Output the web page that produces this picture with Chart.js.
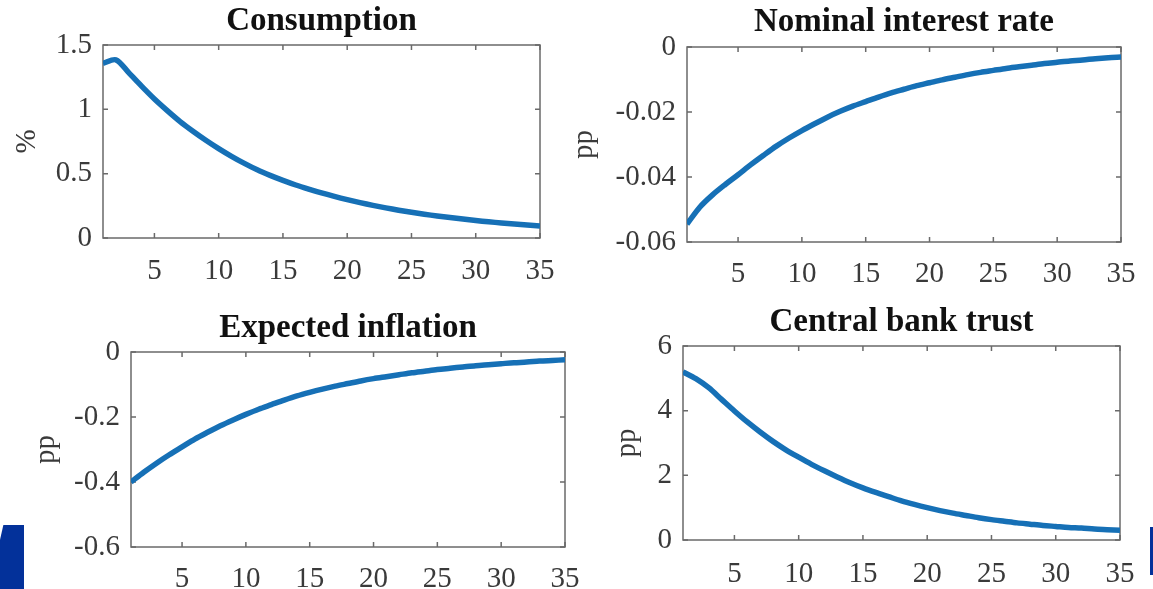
<!DOCTYPE html>
<html><head><meta charset="utf-8">
<script src="https://cdn.jsdelivr.net/npm/chart.js@4.4.1/dist/chart.umd.min.js"></script>
<style>
html,body{margin:0;padding:0;background:#fff;width:1153px;height:589px;overflow:hidden;position:relative}
canvas{position:absolute}
.blk{position:absolute;background:#03319a}
</style></head><body>
<canvas id="c1" width="576" height="294" style="left:0;top:0"></canvas>
<canvas id="c2" width="593" height="294" style="left:560px;top:0"></canvas>
<canvas id="c3" width="600" height="295" style="left:0;top:294px"></canvas>
<canvas id="c4" width="593" height="295" style="left:560px;top:294px"></canvas>
<div class="blk" style="left:0;top:525px;width:24px;height:64px;clip-path:polygon(14% 0,100% 0,100% 100%,0 100%,0 23%)"></div>
<div class="blk" style="left:1150px;top:527px;width:3px;height:48px"></div>
<script>
// ---- data ----
const periods = [1,2,3,4,5,6,7,8,9,10,11,12,13,14,15,16,17,18,19,20,21,22,23,24,25,26,27,28,29,30,31,32,33,34,35];
const xTicks = [5,10,15,20,25,30,35];

const consumption = [1.357,1.385,1.285,1.18,1.08,0.99,0.905,0.83,0.76,0.695,0.635,0.58,0.53,0.487,0.448,0.412,0.38,0.35,0.323,0.298,0.275,0.254,0.234,0.216,0.20,0.185,0.171,0.159,0.147,0.136,0.126,0.117,0.109,0.101,0.094];
const nominalRate = [-0.0545,-0.0493,-0.0455,-0.0423,-0.0393,-0.0362,-0.0333,-0.0305,-0.0280,-0.0257,-0.0236,-0.0216,-0.0198,-0.0182,-0.0168,-0.0154,-0.0141,-0.0130,-0.0119,-0.0110,-0.0101,-0.0093,-0.0085,-0.0078,-0.0072,-0.0066,-0.0061,-0.0056,-0.0051,-0.0047,-0.0043,-0.0040,-0.0036,-0.0033,-0.0031];
const expectedInflation = [-0.400,-0.370,-0.342,-0.316,-0.292,-0.268,-0.247,-0.227,-0.209,-0.192,-0.176,-0.162,-0.148,-0.135,-0.124,-0.114,-0.105,-0.097,-0.089,-0.082,-0.076,-0.070,-0.064,-0.059,-0.054,-0.050,-0.046,-0.042,-0.039,-0.036,-0.033,-0.031,-0.028,-0.026,-0.024];
const cbTrust = [5.20,4.99,4.71,4.35,3.99,3.65,3.34,3.05,2.79,2.56,2.34,2.14,1.95,1.77,1.61,1.47,1.34,1.21,1.10,1.00,0.91,0.83,0.76,0.69,0.63,0.58,0.53,0.49,0.45,0.42,0.39,0.37,0.34,0.32,0.30];

const consumptionYTicks = [0,0.5,1,1.5];
const consumptionYLabels = ['0','0.5','1','1.5'];
const nominalYTicks = [-0.06,-0.04,-0.02,0];
const nominalYLabels = ['-0.06','-0.04','-0.02','0'];
const inflationYTicks = [-0.6,-0.4,-0.2,0];
const inflationYLabels = ['-0.6','-0.4','-0.2','0'];
const trustYTicks = [0,2,4,6];
const trustYLabels = ['0','2','4','6'];

// ---- drawing ----
const FONT = "'Liberation Serif', 'Times New Roman', serif";
const framePlugin = {
  id: 'frame',
  beforeDatasetsDraw(chart) {
    const {ctx, chartArea: a, scales: {x, y}} = chart;
    ctx.save();
    ctx.strokeStyle = '#6a6a6a';
    ctx.lineWidth = 1.5;
    ctx.strokeRect(a.left, a.top, a.right - a.left, a.bottom - a.top);
    const L = 5;
    ctx.beginPath();
    x.ticks.forEach(t => {
      const px = x.getPixelForValue(t.value);
      ctx.moveTo(px, a.bottom); ctx.lineTo(px, a.bottom - L);
      ctx.moveTo(px, a.top); ctx.lineTo(px, a.top + L);
    });
    y.ticks.forEach(t => {
      const py = y.getPixelForValue(t.value);
      ctx.moveTo(a.left, py); ctx.lineTo(a.left + L, py);
      ctx.moveTo(a.right, py); ctx.lineTo(a.right - L, py);
    });
    ctx.stroke();
    ctx.restore();
  }
};

function make(id, title, yTitle, values, yTicks, yLabels, lay) {
  new Chart(document.getElementById(id), {
    type: 'line',
    data: {
      datasets: [{
        data: periods.map((p, i) => ({x: p, y: values[i]})),
        borderColor: '#1670b6',
        borderWidth: 5.5,
        pointRadius: 0,
        tension: 0.3,
        fill: false,
        clip: 0
      }]
    },
    options: {
      responsive: false,
      animation: false,
      events: [],
      layout: {padding: {left: 0, right: lay.padRight, top: 0, bottom: lay.padBottom}},
      plugins: {
        legend: {display: false},
        tooltip: {enabled: false},
        title: {
          display: true, text: title, fullSize: false,
          color: '#111',
          font: {family: FONT, size: 33, weight: 'bold', lineHeight: 1},
          padding: {top: lay.titleTop, bottom: lay.titleBottom}
        }
      },
      scales: {
        x: {
          type: 'linear', min: 1, max: 35,
          grid: {display: false, drawTicks: false},
          border: {display: false},
          afterBuildTicks: s => { s.ticks = xTicks.map(v => ({value: v})); },
          afterFit: s => { s.height = lay.xHeight; },
          ticks: {
            autoSkip: false, maxRotation: 0, padding: lay.xPad,
            color: '#3a3a3a', font: {family: FONT, size: 29},
            callback: v => String(v)
          }
        },
        y: {
          type: 'linear', min: yTicks[0], max: yTicks[yTicks.length - 1],
          grid: {display: false, drawTicks: false},
          border: {display: false},
          afterBuildTicks: s => { s.ticks = yTicks.map(v => ({value: v})); },
          afterFit: s => { s.width = lay.yWidth; },
          title: {
            display: true, text: yTitle, color: '#3a3a3a',
            font: {family: FONT, size: 29, lineHeight: 1},
            padding: {top: lay.yTitleTop, bottom: 0}
          },
          ticks: {
            autoSkip: false, padding: 11,
            color: '#3a3a3a', font: {family: FONT, size: 29},
            callback: (v, i) => yLabels[i]
          }
        }
      }
    },
    plugins: [framePlugin]
  });
}

make('c1', 'Consumption', '%', consumption, consumptionYTicks, consumptionYLabels,
  {padRight: 36, padBottom: 8, xHeight: 48, xPad: 16, yWidth: 103, titleTop: 5, titleBottom: 7, yTitleTop: 13});
make('c2', 'Nominal interest rate', 'pp', nominalRate, nominalYTicks, nominalYLabels,
  {padRight: 32, padBottom: 4, xHeight: 48, xPad: 15, yWidth: 127, titleTop: 6, titleBottom: 8, yTitleTop: 10});
make('c3', 'Expected inflation', 'pp', expectedInflation, inflationYTicks, inflationYLabels,
  {padRight: 35, padBottom: 2, xHeight: 40, xPad: 15, yWidth: 131, titleTop: 18, titleBottom: 7, yTitleTop: 32});
make('c4', 'Central bank trust', 'pp', cbTrust, trustYTicks, trustYLabels,
  {padRight: 33, padBottom: 4, xHeight: 45, xPad: 17, yWidth: 123, titleTop: 12, titleBottom: 7, yTitleTop: 53});
</script>
</body></html>
